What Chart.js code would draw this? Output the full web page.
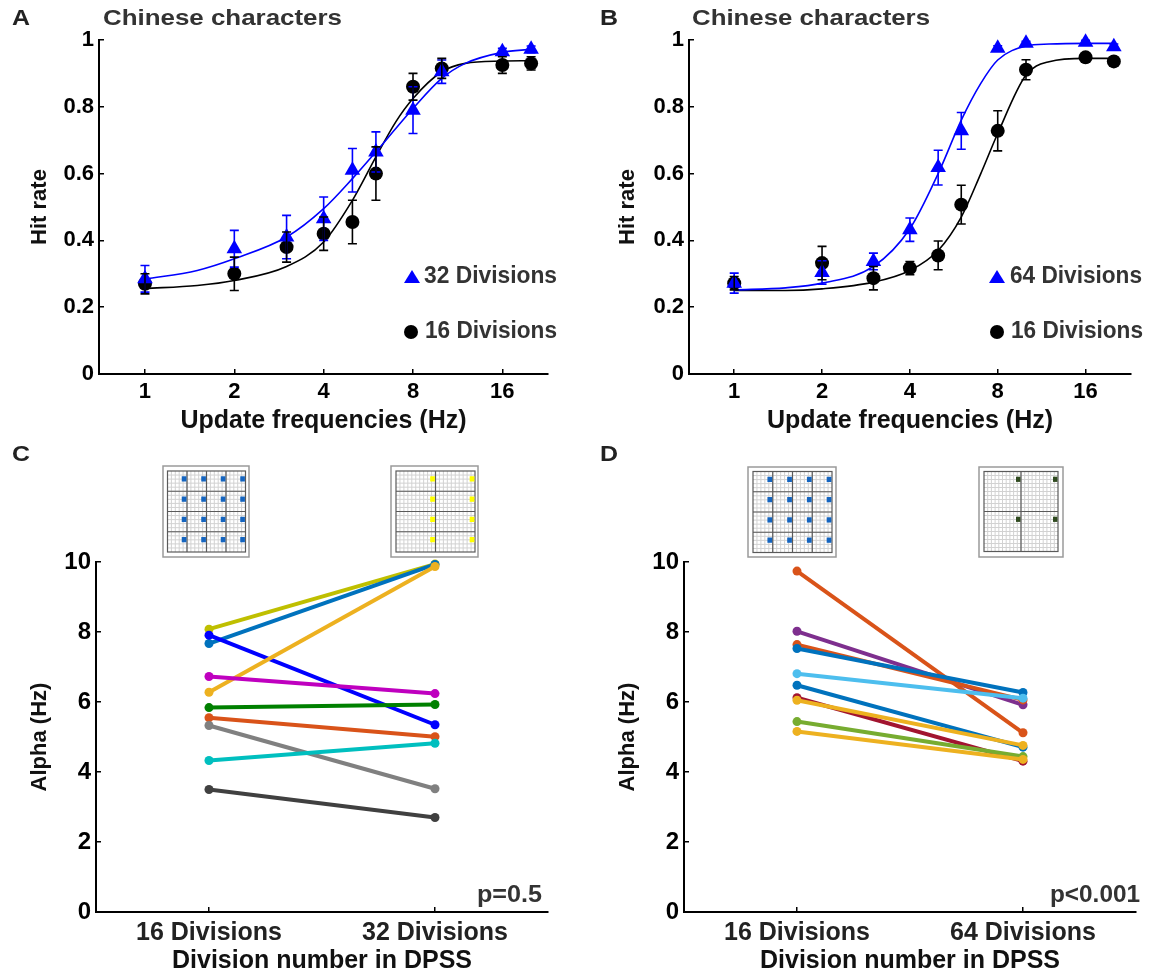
<!DOCTYPE html>
<html>
<head>
<meta charset="utf-8">
<script src="https://cdn.jsdelivr.net/npm/chart.js@4.4.1/dist/chart.umd.min.js"></script>
<style>
  body { margin: 0; background: #fff; }
  #wrap { position: relative; width: 1157px; height: 976px; }
  #wrap canvas { position: absolute; left: 0; top: 0; }
</style>
</head>
<body>
<div id="wrap">
  <canvas id="panelA" width="1157" height="976"></canvas>
  <canvas id="panelB" width="1157" height="976"></canvas>
  <canvas id="panelC" width="1157" height="976"></canvas>
  <canvas id="panelD" width="1157" height="976"></canvas>
</div>
<script>
// --- data ---
const freqs = [1, 2, 3, 4, 5, 6, 8, 10, 16, 20];
const freqTicks = [1, 2, 4, 8, 16];

const hitA32 = [0.285, 0.375, 0.41, 0.465, 0.61, 0.665, 0.79, 0.905, 0.965, 0.972];
const errA32 = [0.04, 0.055, 0.065, 0.065, 0.065, 0.06, 0.07, 0.035, 0.01, 0.01];
const hitA16 = [0.27, 0.30, 0.38, 0.42, 0.455, 0.60, 0.86, 0.915, 0.925, 0.93];
const errA16 = [0.03, 0.05, 0.045, 0.05, 0.065, 0.08, 0.04, 0.03, 0.025, 0.02];

const hitB64 = [0.272, 0.304, 0.337, 0.432, 0.618, 0.728, 0.975, 0.99, 0.993, 0.98];
const errB64 = [0.03, 0.035, 0.025, 0.035, 0.052, 0.055, 0.008, 0.006, 0.006, 0.008];
const hitB16 = [0.272, 0.332, 0.287, 0.317, 0.355, 0.507, 0.728, 0.911, 0.948, 0.936];
const errB16 = [0.02, 0.05, 0.035, 0.02, 0.043, 0.058, 0.06, 0.03, 0.01, 0.012];

// fitted curves, sampled along the drawn lines
const fitFreqs = [1, 1.5, 2, 3, 4, 5, 6, 7, 8, 10, 12, 16, 20];
const fitA32 = [0.284, 0.31, 0.345, 0.41, 0.495, 0.585, 0.665, 0.735, 0.795, 0.885, 0.93, 0.963, 0.972];
const fitA16 = [0.256, 0.265, 0.28, 0.322, 0.395, 0.52, 0.65, 0.755, 0.825, 0.905, 0.93, 0.937, 0.938];
const fitB64 = [0.252, 0.258, 0.272, 0.322, 0.435, 0.6, 0.76, 0.87, 0.94, 0.982, 0.988, 0.99, 0.99];
const fitB16 = [0.25, 0.25, 0.255, 0.275, 0.31, 0.37, 0.47, 0.6, 0.72, 0.895, 0.935, 0.945, 0.945];

const divLabelsC = ['16 Divisions', '32 Divisions'];
const divLabelsD = ['16 Divisions', '64 Divisions'];
const alphaC16 = [8.08, 7.67, 7.91, 6.28, 6.73, 5.84, 5.55, 5.33, 4.33, 3.50];
const alphaC32 = [9.94, 9.93, 5.35, 9.87, 6.24, 5.93, 5.01, 3.52, 4.82, 2.70];
const alphaD16 = [9.74, 8.02, 7.64, 7.53, 6.81, 6.48, 6.12, 6.05, 5.44, 5.16];
const alphaD64 = [5.12, 5.92, 6.06, 6.27, 6.11, 4.71, 4.31, 4.76, 4.44, 4.36];

const subjColorsC = ['#bfbf00', '#0072bd', '#0000ff', '#edb120', '#bf00bf', '#008000', '#d95319', '#808080', '#00bfbf', '#404040'];
const subjColorsD = ['#d95319', '#7e2f8e', '#d95319', '#0072bd', '#4dbeee', '#0072bd', '#a2142f', '#edb120', '#77ac30', '#edb120'];

const FAMILY = '"Liberation Sans", Arial, sans-serif';
const W = 1157, H = 976;

function font(size) {
  return { family: FAMILY, size: size, weight: 'bold', lineHeight: 1.2 };
}

function pts(xs, ys) {
  return xs.map((x, i) => ({ x: x, y: ys[i] }));
}

// text squeezed/stretched to the width it has in the figure
function putText(ctx, t) {
  ctx.save();
  ctx.font = 'bold ' + t.size + 'px ' + FAMILY;
  ctx.fillStyle = t.color || '#000';
  ctx.textBaseline = 'middle';
  ctx.textAlign = 'left';
  const w = ctx.measureText(t.text).width;
  const sx = t.width ? t.width / w : 1;
  let x = t.x;
  if (t.align === 'right') x -= w * sx;
  if (t.align === 'center') x -= w * sx / 2;
  ctx.translate(x, t.y);
  ctx.scale(sx, 1);
  ctx.fillText(t.text, 0, 0);
  ctx.restore();
}

function putMarker(ctx, m) {
  ctx.save();
  ctx.fillStyle = m.color;
  ctx.beginPath();
  if (m.style === 'triangle') {
    ctx.moveTo(m.x, m.y - 7);
    ctx.lineTo(m.x + 8, m.y + 6);
    ctx.lineTo(m.x - 8, m.y + 6);
    ctx.closePath();
  } else {
    ctx.arc(m.x, m.y, 7, 0, Math.PI * 2);
  }
  ctx.fill();
  ctx.restore();
}

// little DPSS grid pictures above panels C and D
function drawIcon(ctx, ic) {
  ctx.save();
  ctx.fillStyle = '#fff';
  ctx.fillRect(ic.ox, ic.oy, ic.ow, ic.oh);
  ctx.strokeStyle = '#9a9a9a';
  ctx.lineWidth = 1.5;
  ctx.strokeRect(ic.ox, ic.oy, ic.ow, ic.oh);
  const mx = ic.iw / 20, my = ic.ih / 20;
  ctx.strokeStyle = '#d2d2d2';
  ctx.lineWidth = 1;
  ctx.beginPath();
  for (let k = 1; k < 20; k++) {
    ctx.moveTo(ic.ix + k * mx, ic.iy);
    ctx.lineTo(ic.ix + k * mx, ic.iy + ic.ih);
    ctx.moveTo(ic.ix, ic.iy + k * my);
    ctx.lineTo(ic.ix + ic.iw, ic.iy + k * my);
  }
  ctx.stroke();
  const cw = ic.iw / ic.cols, ch = ic.ih / ic.rows;
  ctx.strokeStyle = '#5a5a5a';
  ctx.lineWidth = 1.2;
  ctx.beginPath();
  for (let c = 1; c < ic.cols; c++) {
    ctx.moveTo(ic.ix + c * cw, ic.iy);
    ctx.lineTo(ic.ix + c * cw, ic.iy + ic.ih);
  }
  for (let r = 1; r < ic.rows; r++) {
    ctx.moveTo(ic.ix, ic.iy + r * ch);
    ctx.lineTo(ic.ix + ic.iw, ic.iy + r * ch);
  }
  ctx.stroke();
  ctx.strokeRect(ic.ix, ic.iy, ic.iw, ic.ih);
  ctx.fillStyle = ic.color;
  for (let c = 0; c < ic.cols; c++) {
    for (let r = 0; r < ic.rows; r++) {
      ctx.fillRect(ic.ix + (c + 1) * cw - mx * 1.35, ic.iy + r * ch + my * 1.3, mx * 1.2, my * 1.3);
    }
  }
  ctx.restore();
}

function makeDecor(spec) {
  return {
    id: 'decor',
    afterDatasetsDraw(chart) {
      const ctx = chart.ctx;
      const yScale = chart.scales.y;
      chart.data.datasets.forEach((ds, i) => {
        if (!ds.errors) return;
        const meta = chart.getDatasetMeta(i);
        ctx.save();
        ctx.strokeStyle = ds.pointBorderColor;
        ctx.lineWidth = 1.6;
        ctx.beginPath();
        meta.data.forEach((pt, j) => {
          const v = ds.data[j].y, e = ds.errors[j];
          const y1 = yScale.getPixelForValue(v - e);
          const y2 = yScale.getPixelForValue(v + e);
          ctx.moveTo(pt.x, y1); ctx.lineTo(pt.x, y2);
          ctx.moveTo(pt.x - 4.5, y1); ctx.lineTo(pt.x + 4.5, y1);
          ctx.moveTo(pt.x - 4.5, y2); ctx.lineTo(pt.x + 4.5, y2);
        });
        ctx.stroke();
        ctx.restore();
      });
    },
    afterDraw(chart) {
      const ctx = chart.ctx;
      (spec.icons || []).forEach((ic) => drawIcon(ctx, ic));
      (spec.markers || []).forEach((m) => putMarker(ctx, m));
      (spec.texts || []).forEach((t) => putText(ctx, t));
    },
  };
}

// builds the options so the plot box lands where it is in the figure
function panelOptions(p) {
  const YW = 92, XH = 72;
  const ylh = p.yTitleSize * 1.2, xlh = p.xTitleSize * 1.2;
  const grid = { display: true, drawOnChartArea: false, drawTicks: true, tickLength: -5, color: '#000', lineWidth: 1.5 };
  const border = { display: true, color: '#000', width: 2 };
  return {
    responsive: false,
    animation: false,
    events: [],
    layout: { padding: { left: p.l - YW, top: p.t, right: W - p.r, bottom: H - p.b - XH } },
    plugins: { legend: { display: false }, tooltip: { enabled: false } },
    scales: {
      x: Object.assign({
        grid: grid,
        border: border,
        afterBuildTicks: (s) => { s.ticks = p.xTicks.map((v) => ({ value: v })); },
        afterFit: (s) => { s.height = XH; },
        ticks: {
          autoSkip: false, maxRotation: 0, padding: p.xTickPad,
          font: font(p.xTickSize), color: p.xTickColor,
          callback: p.xLabel,
        },
        title: {
          display: true, text: p.xTitle, color: '#111', font: font(p.xTitleSize),
          padding: { top: 0, bottom: p.b + XH - xlh / 2 - p.xTitleY },
        },
      }, p.x),
      y: Object.assign({
        grid: grid,
        border: border,
        afterFit: (s) => { s.width = YW; },
        ticks: {
          padding: 10, font: font(p.yTickSize), color: '#000', stepSize: p.yStep,
          callback: (v) => String(Math.round(v * 10) / 10),
        },
        title: {
          display: true, text: p.yTitle, color: '#111', font: font(p.yTitleSize),
          padding: { top: p.yTitleX - (p.l - YW) - ylh / 2, bottom: 0 },
        },
      }, p.y),
    },
  };
}

function hitDatasets(hitHi, errHi, fitHi, hitLo, errLo, fitLo) {
  return [
    {
      data: pts(freqs, hitHi), errors: errHi, showLine: false, clip: false,
      pointStyle: 'triangle', pointRadius: 9, pointBorderWidth: 0,
      pointBackgroundColor: '#0000ff', pointBorderColor: '#0000ff',
    },
    {
      data: pts(freqs, hitLo), errors: errLo, showLine: false, clip: false,
      pointStyle: 'circle', pointRadius: 7, pointBorderWidth: 0,
      pointBackgroundColor: '#000', pointBorderColor: '#000',
    },
    {
      data: pts(fitFreqs, fitHi), borderColor: '#0000ff', borderWidth: 1.6,
      pointRadius: 0, cubicInterpolationMode: 'monotone', fill: false, clip: false,
    },
    {
      data: pts(fitFreqs, fitLo), borderColor: '#000', borderWidth: 1.6,
      pointRadius: 0, cubicInterpolationMode: 'monotone', fill: false, clip: false,
    },
  ];
}

function pairDatasets(left, right, colors) {
  return left.map((v, i) => ({
    data: [{ x: 1, y: v }, { x: 2, y: right[i] }],
    borderColor: colors[i], backgroundColor: colors[i], borderWidth: 4,
    pointRadius: 4.5, pointBorderWidth: 0, pointBackgroundColor: colors[i],
    order: -i, clip: false,
  }));
}

const hitCommon = {
  t: 40, b: 374, xTicks: freqTicks, xTickPad: 10, xTickSize: 22, xTickColor: '#000',
  xLabel: (v) => String(v), xTitle: 'Update frequencies (Hz)', xTitleSize: 25, xTitleY: 421,
  yTitle: 'Hit rate', yTitleSize: 22, yTickSize: 22, yStep: 0.2,
  y: { min: 0, max: 1 },
};

const alphaCommon = {
  t: 562, b: 912, xTicks: [1, 2], xTickPad: 11, xTickSize: 25, xTickColor: '#222',
  xTitle: 'Division number in DPSS', xTitleSize: 25, xTitleY: 961,
  yTitle: 'Alpha (Hz)', yTitleSize: 22, yTickSize: 24, yStep: 2,
  y: { min: 0, max: 10 },
};

const titleSize = 22;
const legendSize = 23;

new Chart(document.getElementById('panelA'), {
  type: 'line',
  data: { datasets: hitDatasets(hitA32, errA32, fitA32, hitA16, errA16, fitA16) },
  options: panelOptions(Object.assign({}, hitCommon, {
    l: 99, r: 548, yTitleX: 40,
    x: { type: 'logarithmic', min: 0.71, max: 22.8 },
  })),
  plugins: [makeDecor({
    texts: [
      { text: 'A', x: 12, y: 19, size: 22, color: '#222', width: 18 },
      { text: 'Chinese characters', x: 103, y: 19, size: titleSize, color: '#333', width: 239 },
      { text: '32 Divisions', x: 424, y: 277, size: legendSize, color: '#333', width: 133 },
      { text: '16 Divisions', x: 425, y: 332, size: legendSize, color: '#333', width: 132 },
    ],
    markers: [
      { style: 'triangle', color: '#0000ff', x: 412, y: 277 },
      { style: 'circle', color: '#000', x: 411, y: 332 },
    ],
  })],
});

new Chart(document.getElementById('panelB'), {
  type: 'line',
  data: { datasets: hitDatasets(hitB64, errB64, fitB64, hitB16, errB16, fitB16) },
  options: panelOptions(Object.assign({}, hitCommon, {
    l: 689, r: 1131, yTitleX: 628,
    x: { type: 'logarithmic', min: 0.73, max: 22.9 },
  })),
  plugins: [makeDecor({
    texts: [
      { text: 'B', x: 600, y: 19, size: 22, color: '#222', width: 18 },
      { text: 'Chinese characters', x: 692, y: 19, size: titleSize, color: '#333', width: 238 },
      { text: '64 Divisions', x: 1010, y: 277, size: legendSize, color: '#333', width: 132 },
      { text: '16 Divisions', x: 1011, y: 332, size: legendSize, color: '#333', width: 132 },
    ],
    markers: [
      { style: 'triangle', color: '#0000ff', x: 997, y: 277 },
      { style: 'circle', color: '#000', x: 997, y: 332 },
    ],
  })],
});

new Chart(document.getElementById('panelC'), {
  type: 'line',
  data: { datasets: pairDatasets(alphaC16, alphaC32, subjColorsC) },
  options: panelOptions(Object.assign({}, alphaCommon, {
    l: 96, r: 548, yTitleX: 40,
    xLabel: (v) => divLabelsC[v - 1],
    x: { type: 'linear', min: 0.5, max: 2.5 },
  })),
  plugins: [makeDecor({
    texts: [
      { text: 'C', x: 12, y: 455, size: 22, color: '#222', width: 18 },
      { text: 'p=0.5', x: 542, y: 896, size: legendSize, color: '#333', width: 65, align: 'right' },
    ],
    icons: [
      { ox: 163, oy: 466, ow: 86, oh: 91, ix: 167.5, iy: 471, iw: 78, ih: 81, cols: 4, rows: 4, color: '#1565c0' },
      { ox: 391, oy: 466, ow: 87, oh: 91, ix: 396, iy: 471, iw: 79, ih: 81, cols: 2, rows: 4, color: '#ffff00' },
    ],
  })],
});

new Chart(document.getElementById('panelD'), {
  type: 'line',
  data: { datasets: pairDatasets(alphaD16, alphaD64, subjColorsD) },
  options: panelOptions(Object.assign({}, alphaCommon, {
    l: 684, r: 1136, yTitleX: 628,
    xLabel: (v) => divLabelsD[v - 1],
    x: { type: 'linear', min: 0.5, max: 2.5 },
  })),
  plugins: [makeDecor({
    texts: [
      { text: 'D', x: 600, y: 455, size: 22, color: '#222', width: 18 },
      { text: 'p<0.001', x: 1140, y: 896, size: legendSize, color: '#333', width: 90, align: 'right' },
    ],
    icons: [
      { ox: 748, oy: 467, ow: 88, oh: 90, ix: 753, iy: 471.5, iw: 79, ih: 81, cols: 4, rows: 4, color: '#1565c0' },
      { ox: 979, oy: 467, ow: 84, oh: 90, ix: 984, iy: 471.5, iw: 74, ih: 80, cols: 2, rows: 2, color: '#2f4a1f' },
    ],
  })],
});
</script>
</body>
</html>
